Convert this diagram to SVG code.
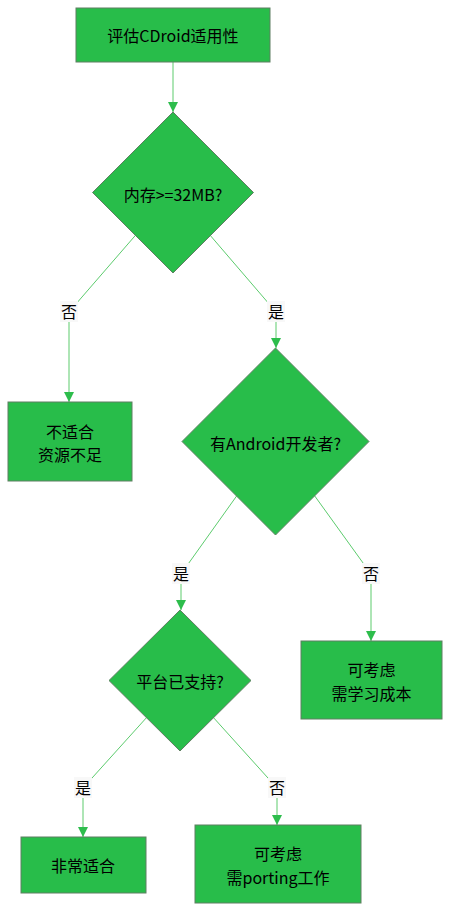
<svg xmlns="http://www.w3.org/2000/svg" width="449" height="911" viewBox="0 0 449 911">
<style>
.node{fill:#28bd4a;stroke:#5f7f62;stroke-width:1}
.t{font-family:"Microsoft YaHei","Noto Sans CJK SC","Noto Sans",sans-serif;font-size:16px;fill:#000;text-anchor:middle;dominant-baseline:central}
.edge{stroke:#5ccb6d;stroke-width:1;fill:none}
.lbg{fill:#f8f8f8}
.lt{font-family:"Microsoft YaHei","Noto Sans CJK SC",sans-serif;font-size:16px;fill:#000;text-anchor:middle;dominant-baseline:central}
</style>
<defs>
<marker id="ah" viewBox="0 0 10 10" refX="10" refY="5" markerWidth="10" markerHeight="10" markerUnits="userSpaceOnUse" orient="auto">
<path d="M0,0 L10,5 L0,10 z" fill="#2dbd4c"/>
</marker>
</defs>
<rect width="449" height="911" fill="#ffffff"/>
<g id="connectors">
<line class="edge" x1="173" y1="62" x2="173" y2="112" marker-end="url(#ah)"/>
<line class="edge" x1="173" y1="192" x2="69" y2="312"/>
<line class="edge" x1="69" y1="320" x2="69" y2="402" marker-end="url(#ah)"/>
<line class="edge" x1="173" y1="192" x2="276" y2="312"/>
<line class="edge" x1="276" y1="320" x2="276" y2="348" marker-end="url(#ah)"/>
<line class="edge" x1="275.5" y1="441.5" x2="181" y2="574"/>
<line class="edge" x1="181" y1="582" x2="181" y2="610" marker-end="url(#ah)"/>
<line class="edge" x1="275.5" y1="441.5" x2="371" y2="574"/>
<line class="edge" x1="371" y1="582" x2="371" y2="641" marker-end="url(#ah)"/>
<line class="edge" x1="180" y1="680.5" x2="83" y2="788"/>
<line class="edge" x1="83" y1="796" x2="83" y2="837" marker-end="url(#ah)"/>
<line class="edge" x1="180" y1="680.5" x2="277" y2="788"/>
<line class="edge" x1="277" y1="796" x2="277" y2="825" marker-end="url(#ah)"/>
<rect class="lbg" x="60" y="301" width="18" height="21"/>
<text class="lt" x="69" y="311">否</text>
<rect class="lbg" x="267" y="301" width="18" height="21"/>
<text class="lt" x="276" y="311">是</text>
<rect class="lbg" x="172" y="563" width="18" height="21"/>
<text class="lt" x="181" y="573">是</text>
<rect class="lbg" x="362" y="563" width="18" height="21"/>
<text class="lt" x="371" y="573">否</text>
<rect class="lbg" x="74" y="777" width="18" height="21"/>
<text class="lt" x="83" y="787">是</text>
<rect class="lbg" x="268" y="777" width="18" height="21"/>
<text class="lt" x="277" y="787">否</text>
</g>
<g id="start">
<rect class="node" x="76" y="8" width="194" height="54"/>
<text class="t" x="173" y="35">评估CDroid适用性</text>
</g>
<g id="mem">
<polygon class="node" points="173,112 253.5,192.5 173,273 92.5,192.5"/>
<text class="t" x="173" y="194">内存&gt;=32MB?</text>
</g>
<g id="notfit">
<rect class="node" x="8" y="402" width="124" height="79"/>
<text class="t" x="70" y="431">不适合</text>
<text class="t" x="70" y="454">资源不足</text>
</g>
<g id="dev">
<polygon class="node" points="275.5,348 369,441.5 275.5,535 182,441.5"/>
<text class="t" x="275.5" y="443">有Android开发者?</text>
</g>
<g id="learn">
<rect class="node" x="301" y="641" width="141" height="78"/>
<text class="t" x="371.5" y="669">可考虑</text>
<text class="t" x="371.5" y="693">需学习成本</text>
</g>
<g id="platform">
<polygon class="node" points="180,610 251,680.5 180,751 109,680.5"/>
<text class="t" x="180" y="681">平台已支持?</text>
</g>
<g id="fit">
<rect class="node" x="21" y="837" width="125" height="56"/>
<text class="t" x="83" y="865">非常适合</text>
</g>
<g id="porting">
<rect class="node" x="195" y="825" width="166" height="78"/>
<text class="t" x="278" y="853">可考虑</text>
<text class="t" x="278" y="877">需porting工作</text>
</g>
</svg>
